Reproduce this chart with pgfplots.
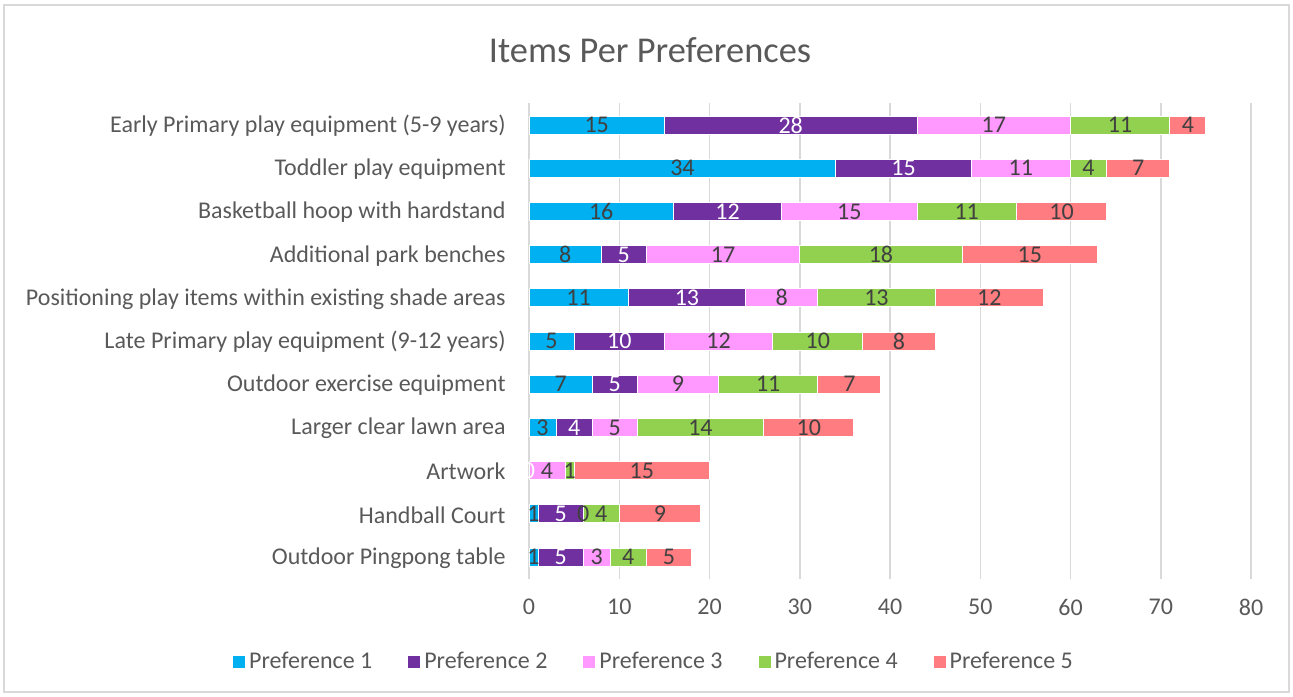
\documentclass[border=0pt]{standalone}
\usepackage{fontspec}
\setmainfont{Carlito}
\usepackage{pgfplots}
\usepackage{pgfplotstable}
\pgfplotsset{compat=1.18}
\definecolor{pA}{HTML}{00B0F0}
\definecolor{pB}{HTML}{7030A0}
\definecolor{pC}{HTML}{FF99FF}
\definecolor{pD}{HTML}{92D050}
\definecolor{pE}{HTML}{FF7C80}
\definecolor{txt}{HTML}{595959}
\definecolor{lbl}{HTML}{404040}
\definecolor{grd}{HTML}{D9D9D9}
\definecolor{axl}{HTML}{BFBFBF}

\pgfplotstableread{
idx p1 p2 p3 p4 p5
0 1 5 3 4 5
1 1 5 0 4 9
2 0 0 4 1 15
3 3 4 5 14 10
4 7 5 9 11 7
5 5 10 12 10 8
6 11 13 8 13 12
7 8 5 17 18 15
8 16 12 15 11 10
9 34 15 11 4 7
10 15 28 17 11 4
}\data
\pgfplotstablecreatecol[create col/expr={\thisrow{p1}/2}]{m1}\data
\pgfplotstablecreatecol[create col/expr={\thisrow{p1}+\thisrow{p2}/2}]{m2}\data
\pgfplotstablecreatecol[create col/expr={\thisrow{p1}+\thisrow{p2}+\thisrow{p3}/2}]{m3}\data
\pgfplotstablecreatecol[create col/expr={\thisrow{p1}+\thisrow{p2}+\thisrow{p3}+\thisrow{p4}/2}]{m4}\data
\pgfplotstablecreatecol[create col/expr={\thisrow{p1}+\thisrow{p2}+\thisrow{p3}+\thisrow{p4}+\thisrow{p5}/2}]{m5}\data

\pgfplotsset{
  common/.style={
    at={(264.5pt,-289.3pt)}, anchor=south west,
    scale only axis, width=361pt, height=237.6pt,
    xmin=0, xmax=80, ymin=-0.5, ymax=10.5,
    /pgf/number format/assume math mode=true,
  },
  lab/.style={draw=none, mark=none, nodes near coords, point meta=explicit,
    every node near coord/.append style={anchor=center, inner sep=0pt, font=\fontsize{12}{14}\selectfont, text=#1}},
}

\begin{document}
\begin{tikzpicture}
\useasboundingbox (0,0) rectangle (646.5pt,-348pt);
\draw[color=grd, line width=0.75pt] (2pt,-2.5pt) rectangle (644.5pt,-346pt);
\node[text=txt, font=\fontsize{18.2}{22}\selectfont, inner sep=0pt] at (325pt,-25pt) {Items Per Preferences};
\begin{axis}[
  common,
  xbar stacked, bar width=9pt,
  xtick={0,10,...,80}, ytick={0,...,10},
  yticklabels={Outdoor Pingpong table, Handball Court, Artwork, Larger clear lawn area, Outdoor exercise equipment, Late Primary play equipment (9-12 years), Positioning play items within existing shade areas, Additional park benches, Basketball hoop with hardstand, Toddler play equipment, Early Primary play equipment (5-9 years)\ },
  tick label style={font=\fontsize{12}{14}\selectfont, text=txt},
  yticklabel style={anchor=east, inner sep=0pt, xshift=-11.5pt, yshift=-0.5pt},
  xticklabel style={anchor=north, inner sep=0pt, yshift=-10pt},
  major tick length=0pt,
  axis line style={draw=none},
  xmajorgrids, major grid style={color=grd, line width=0.75pt},
  extra x ticks={0}, extra x tick labels={},
  extra x tick style={grid style={color=axl, line width=0.75pt}},
  legend columns=5,
  legend style={at={(0.1745,-0.1755)}, anchor=center, draw=none, fill=none,
    font=\fontsize{12}{14}\selectfont, text=txt,
    /tikz/every even column/.append style={column sep=16pt}},
  legend image code/.code={\fill[#1, draw=none] (0pt,-3pt) rectangle (6pt,3pt);},
]
\addplot[fill=pA, draw=white, line width=0.5pt] table[x=p1, y=idx] {\data};
\addplot[fill=pB, draw=white, line width=0.5pt] table[x=p2, y=idx] {\data};
\addplot[fill=pC, draw=white, line width=0.5pt] table[x=p3, y=idx] {\data};
\addplot[fill=pD, draw=white, line width=0.5pt] table[x=p4, y=idx] {\data};
\addplot[fill=pE, draw=white, line width=0.5pt] table[x=p5, y=idx] {\data};
\legend{Preference 1, Preference 2, Preference 3, Preference 4, Preference 5}
\end{axis}
\begin{axis}[common, hide axis, clip=false]
\addplot[lab=lbl, x filter/.expression={x==0 ? nan : x}] table[x=m1, y=idx, meta=p1] {\data};
\addplot[lab=white] table[x=m2, y=idx, meta=p2] {\data};
\addplot[lab=lbl] table[x=m3, y=idx, meta=p3] {\data};
\addplot[lab=lbl] table[x=m4, y=idx, meta=p4] {\data};
\addplot[lab=lbl] table[x=m5, y=idx, meta=p5] {\data};
\end{axis}
\end{tikzpicture}
\end{document}
